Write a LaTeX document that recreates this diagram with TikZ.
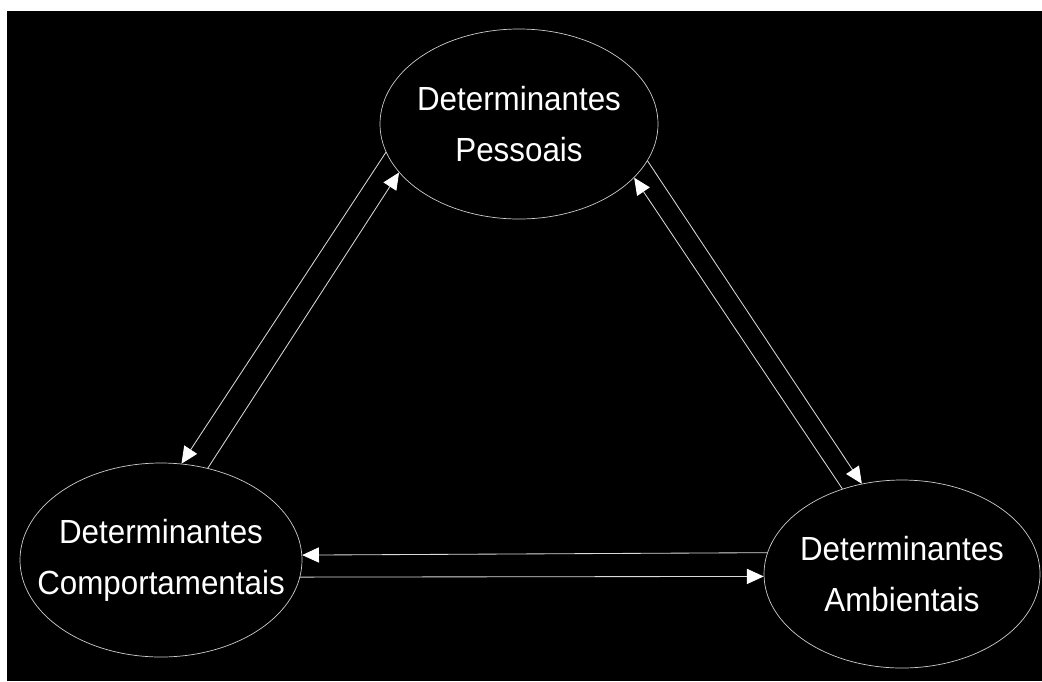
\documentclass[tikz,border=0pt]{standalone}
\usepackage{fontspec}
\newfontfamily\labelfont[FakeStretch=0.937]{Liberation Sans}
\usetikzlibrary{shapes.geometric, positioning, arrows.meta}

\tikzstyle{determinant}=[draw=white!80!black, ellipse, line width=0.5pt, text=white, align=center, font=\labelfont\fontsize{23.8}{36.4}\selectfont, inner xsep=-1cm, inner ysep=0pt]
\tikzstyle{link}=[draw=white!85!black, line width=0.6pt]

\begin{document}
\begin{tikzpicture}[on grid, >={Triangle[length=4.2mm, width=3.8mm, color=white]}]
          \useasboundingbox (0,0) rectangle (26.05,-17.025);
          \fill [black] (0.175,-0.275) rectangle (26.05,-17.025);

          \node (pessoais) [determinant, minimum width=6.95cm, minimum height=4.75cm] at (12.975,-3.1) {Determinantes\\Pessoais};
          \node (comport) [determinant, minimum width=7.05cm, minimum height=4.85cm, below left=10.9cm and 8.95cm of pessoais] {Determinantes\\Comportamentais};
          \node (ambient) [determinant, minimum width=6.9cm, minimum height=4.7cm, below right=11.25cm and 9.575cm of pessoais] {Determinantes\\Ambientais};

          % pessoais <-> comportamentais
          \draw [link, ->] (pessoais.192.4) -- (comport.78.5);
          \draw [link, ->] (comport.63.9) -- (pessoais.202);

          % pessoais <-> ambientais
          \draw [link, ->] (ambient.125.5) -- (pessoais.335.4);
          \draw [link, ->] (pessoais.344.8) -- (ambient.114.8);

          % comportamentais <-> ambientais
          \draw [link, ->] (ambient.171.7) -- (comport.2.5);
          \draw [link, ->] (comport.353) -- (ambient.181.2);
\end{tikzpicture}
\end{document}
